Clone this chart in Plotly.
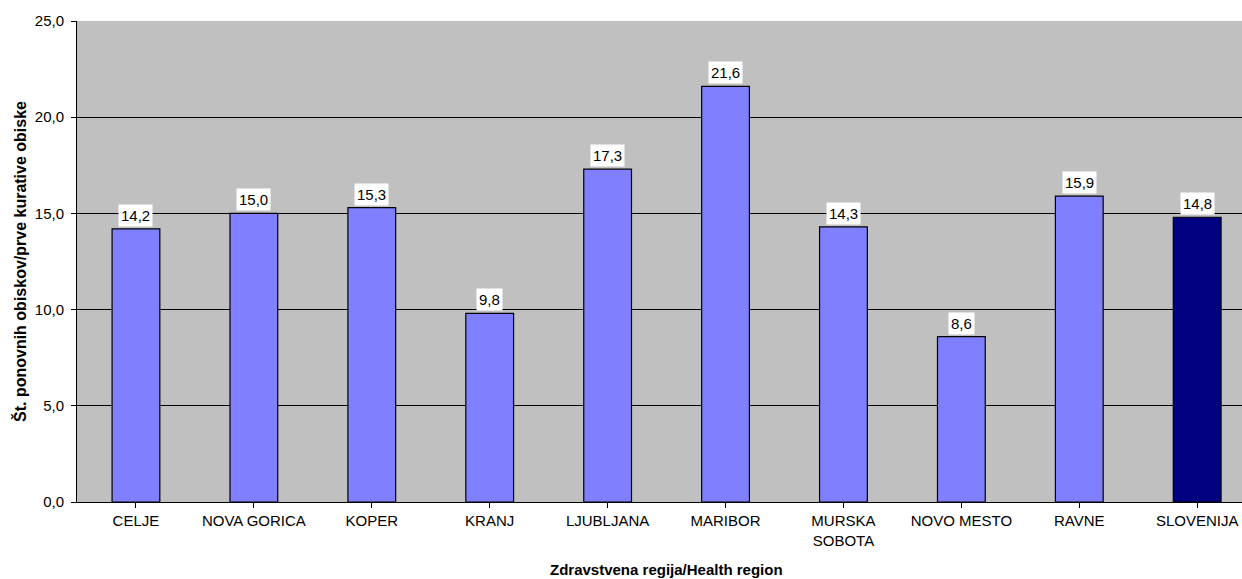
import plotly.graph_objects as go

categories = ["CELJE", "NOVA GORICA", "KOPER", "KRANJ", "LJUBLJANA", "MARIBOR",
              "MURSKA<br>SOBOTA", "NOVO MESTO", "RAVNE", "SLOVENIJA"]
values = [14.2, 15.0, 15.3, 9.8, 17.3, 21.6, 14.3, 8.6, 15.9, 14.8]
bar_colors = ["#8080FF"] * 9 + ["#000080"]
y_ticks = [0, 5, 10, 15, 20, 25]

font_family = "Liberation Sans, Arial, sans-serif"

fig = go.Figure()
fig.add_trace(go.Bar(
    x=list(range(len(categories))),
    y=values,
    marker=dict(color=bar_colors, line=dict(color="black", width=1.2)),
    width=0.405,
    hoverinfo="skip",
))

for i, v in enumerate(values):
    fig.add_annotation(
        x=i, y=v, xref="x", yref="y",
        text=f"{v:.1f}".replace(".", ","),
        showarrow=False, yanchor="bottom", yshift=2,
        bgcolor="white", borderpad=2,
        font=dict(family=font_family, size=15, color="black"),
    )

fig.add_annotation(
    x=4.5, xref="x", y=0, yref="paper", yshift=-67, yanchor="middle",
    text="<b>Zdravstvena regija/Health region</b>", showarrow=False,
    font=dict(family=font_family, size=15, color="black"),
)

fig.update_layout(
    width=1242, height=579,
    margin=dict(l=77, r=0, t=21, b=77),
    paper_bgcolor="white",
    plot_bgcolor="#C0C0C0",
    separators=",.",
    showlegend=False,
    font=dict(family=font_family, size=15, color="black"),
    xaxis=dict(
        range=[-0.5, 9.38],
        tickmode="array",
        tickvals=list(range(len(categories))),
        ticktext=categories,
        tickson="boundaries",
        ticks="outside", ticklen=5, tickcolor="black",
        showline=True, linecolor="black", linewidth=1,
        showgrid=False, zeroline=False,
        automargin=False,
        tickfont=dict(family=font_family, size=15, color="black"),
    ),
    yaxis=dict(
        range=[0, 25],
        tickvals=y_ticks,
        tickformat=".1f",
        ticks="outside", ticklen=5, tickcolor="black",
        ticklabelstandoff=4,
        showline=True, linecolor="black", linewidth=1,
        showgrid=True, gridcolor="black", gridwidth=1,
        zeroline=False,
        automargin=False,
        tickfont=dict(family=font_family, size=15, color="black"),
        title=dict(text="<b>Št. ponovnih obiskov/prve kurative obiske</b>",
                   font=dict(family=font_family, size=16, color="black"),
                   standoff=4),
    ),
)

fig.write_html(
    "out.html",
    config={"displayModeBar": False},
    post_script="document.body.style.margin='0';document.body.style.overflow='hidden';",
)
